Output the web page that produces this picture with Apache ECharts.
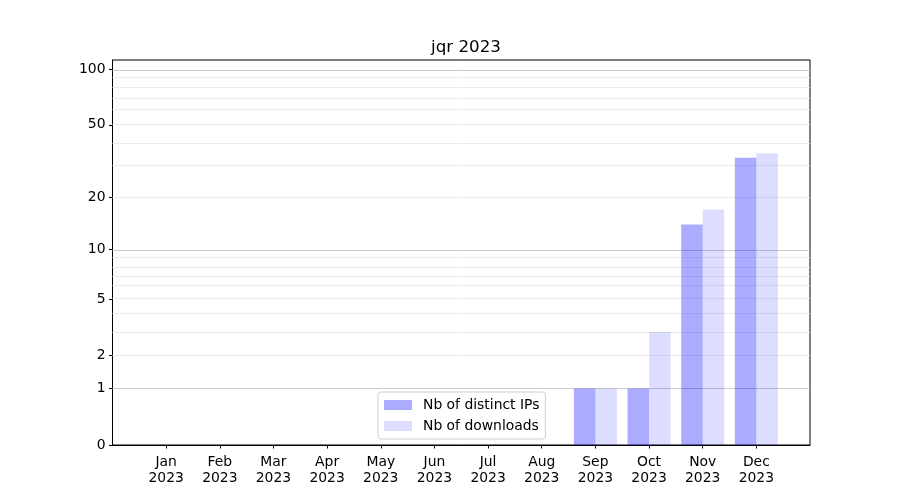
<!DOCTYPE html>
<html>
<head>
<meta charset="utf-8">
<script src="https://cdn.jsdelivr.net/npm/echarts@6/dist/echarts.min.js"></script>
<style>html,body{margin:0;padding:0;background:#fff}#c{width:900px;height:500px}</style>
</head>
<body>
<div id="c"></div>
<script>
const months = ['Jan','Feb','Mar','Apr','May','Jun','Jul','Aug','Sep','Oct','Nov','Dec'];
const year = '2023';
const distinctIPs = [0,0,0,0,0,0,0,0,1,1,14,33];
const downloads   = [0,0,0,0,0,0,0,0,1,3,17,35];
const yTicks = [0,1,2,5,10,20,50,100];
const majorGrid = [1,10,100];
const minorGrid = [2,3,4,5,6,7,8,9,20,30,40,50,60,70,80,90];
const yMaxValue = 112;

const tf = v => Math.log10(1 + v);
const FONT = 'DejaVu Sans';

const gridLines = majorGrid.map(v => ({yAxis: tf(v), lineStyle: {color: '#cbcbcb', width: 1, type: 'solid'}}))
  .concat(minorGrid.map(v => ({yAxis: tf(v), lineStyle: {color: '#ececec', width: 1, type: 'solid'}})));

const chart = echarts.init(document.getElementById('c'), null, {renderer: 'canvas'});
chart.setOption({
  animation: false,
  backgroundColor: '#fff',
  title: {
    text: 'jqr ' + year, left: 461, top: 34, textAlign: 'center',
    textStyle: {fontFamily: FONT, fontSize: 16.7, fontWeight: 'normal', color: '#000'}
  },
  grid: {left: 112.5, right: 90, top: 60, bottom: 55, show: true, borderColor: '#000', borderWidth: 1, backgroundColor: 'transparent'},
  legend: {
    orient: 'vertical', left: 378, top: 392,
    itemWidth: 28, itemHeight: 10, itemGap: 7,
    padding: [6, 6, 6, 6],
    backgroundColor: 'rgba(255,255,255,0.8)', borderColor: '#d0d0d0', borderWidth: 1, borderRadius: 3,
    textStyle: {fontFamily: FONT, fontSize: 13.9, color: '#000', padding: [0,0,0,6]},
    data: [
      {name: 'Nb of distinct IPs', icon: 'rect'},
      {name: 'Nb of downloads', icon: 'rect'}
    ]
  },
  xAxis: {
    type: 'value', min: -1, max: 12,
    axisLine: {show: true, onZero: false, lineStyle: {color: '#000'}},
    axisTick: {show: true, length: 3.5, lineStyle: {color: '#000'}, customValues: months.map((m, i) => i)},
    axisLabel: {
      show: true, margin: 9, color: '#000', fontFamily: FONT, fontSize: 13.9, lineHeight: 16,
      customValues: months.map((m, i) => i),
      formatter: v => (months[Math.round(v)] || '') + '\n' + year
    },
    splitLine: {show: false}
  },
  yAxis: {
    type: 'value', min: 0, max: tf(yMaxValue),
    axisLine: {show: true, onZero: false, lineStyle: {color: '#000'}},
    axisTick: {show: true, length: 3.5, lineStyle: {color: '#000'}, customValues: yTicks.map(tf)},
    axisLabel: {
      show: true, margin: 7, color: '#000', fontFamily: FONT, fontSize: 13.9, padding: [4, 0, 0, 0],
      customValues: yTicks.map(tf),
      formatter: v => {
        let best = 0, bd = Infinity;
        yTicks.forEach((t, i) => { const d = Math.abs(tf(t) - v); if (d < bd) { bd = d; best = i; } });
        return String(yTicks[best]);
      }
    },
    splitLine: {show: false}
  },
  series: [
    {
      name: 'Nb of distinct IPs', type: 'bar', barWidth: 21.5, barGap: '0%',
      itemStyle: {color: 'rgba(0,0,255,0.33)'},
      data: distinctIPs.map((v, i) => [i, tf(v)]),
      markLine: {silent: true, symbol: 'none', z: 1, label: {show: false}, data: gridLines, animation: false}
    },
    {
      name: 'Nb of downloads', type: 'bar', barWidth: 21.5, barGap: '0%',
      itemStyle: {color: 'rgba(0,0,255,0.135)'},
      data: downloads.map((v, i) => [i, tf(v)])
    }
  ]
});
</script>
</body>
</html>
